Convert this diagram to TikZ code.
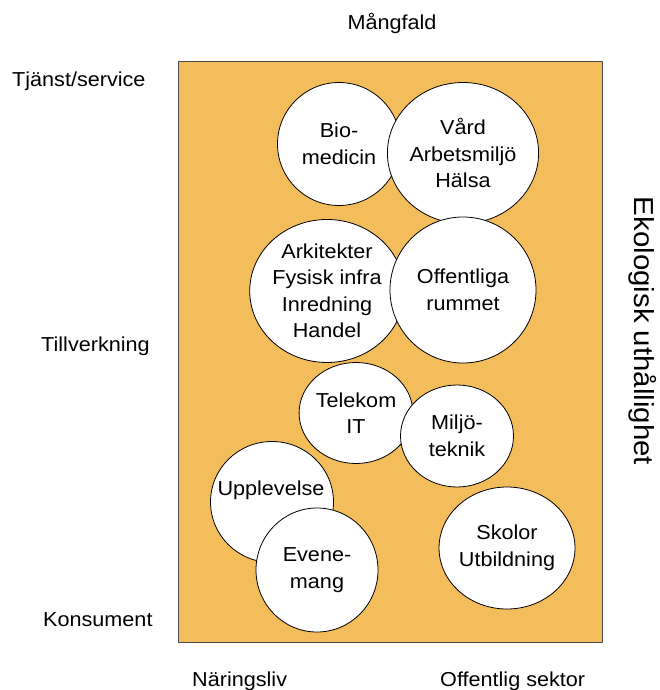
\documentclass[tikz,border=0pt]{standalone}
\usepackage{fontspec}
\setmainfont[FakeStretch=1.07]{Liberation Sans}
\usetikzlibrary{shapes.geometric}
\definecolor{bgorange}{RGB}{243,189,91}
\begin{document}
\begin{tikzpicture}[x=1pt,y=-1pt,
  every node/.style={font=\fontsize{20.2}{26.5}\selectfont, text=black},
  blob/.style={draw=black, line width=0.8pt, fill=white, ellipse, inner sep=0pt, align=center},
  axislabel/.style={inner sep=0pt}]
\path[fill=white] (0,0) rectangle (660,690);
\useasboundingbox (0,0) rectangle (660,690);
\node[draw=black!70, line width=0.8pt, fill=bgorange, minimum width=424pt, minimum height=581pt, inner sep=0pt, anchor=north west] (field) at (178,61) {};
% circles
\node[blob, minimum width=123pt, minimum height=123pt] (bio) at (339,144) {Bio-\\medicin};
\node[blob, minimum width=145pt, minimum height=141pt] (vard) at (463,153) {Vård\\Arbetsmiljö\\Hälsa};
\node[blob, minimum width=143pt, minimum height=143pt] (ark) at (327,291) {Arkitekter\\Fysisk infra\\Inredning\\Handel};
\node[blob, minimum width=146pt, minimum height=146pt] (off) at (463,290) {Offentliga\\rummet};
\node[blob, minimum width=110pt, minimum height=101pt] (tel) at (356,413) {Telekom\\IT};
\node[blob, minimum width=113pt, minimum height=102pt] (mil) at (457,436) {Miljö-\\teknik};
\node[blob, minimum width=123pt, minimum height=121pt] (upp) at (272,502) {};
\node[inner sep=0pt] (upptext) at (271,490) {Upplevelse};
\node[blob, minimum width=122pt, minimum height=124pt] (eve) at (317,570) {Evene-\\mang};
\node[blob, minimum width=122pt, minimum height=122pt] (sko) at (507,548) {Skolor\\Utbildning};
% axis labels
\node[axislabel, anchor=base] (mangfald) at (392,30) {Mångfald};
\node[axislabel, anchor=base west] (tjanst) at (12,87) {Tjänst/service};
\node[axislabel, anchor=base west] (tillv) at (41,351) {Tillverkning};
\node[axislabel, anchor=base west] (kons) at (43,626) {Konsument};
\node[axislabel, anchor=base west] (nar) at (192,686) {Näringsliv};
\node[axislabel, anchor=base west] (offs) at (440,686) {Offentlig sektor};
\node[axislabel, rotate=-90, anchor=base, font=\fontsize{27.5}{32}\selectfont] (eko) at (634,331) {Ekologisk uthållighet};
\end{tikzpicture}
\end{document}
